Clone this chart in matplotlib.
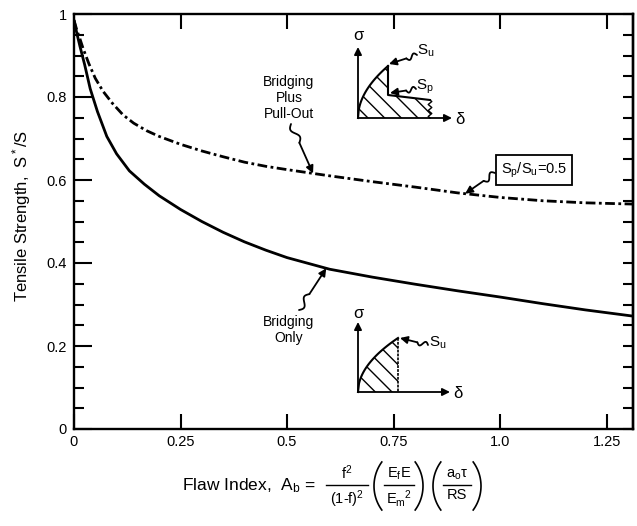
import numpy as np
import matplotlib
matplotlib.use("Agg")
import matplotlib.pyplot as plt
from matplotlib.ticker import FixedLocator, MultipleLocator

plt.rcParams['font.family'] = ['Liberation Sans', 'DejaVu Sans']
plt.rcParams['mathtext.fontset'] = 'custom'
plt.rcParams['mathtext.rm'] = 'Liberation Sans'
plt.rcParams['mathtext.it'] = 'Liberation Sans'
plt.rcParams['mathtext.sf'] = 'Liberation Sans'
plt.rcParams['mathtext.bf'] = 'Liberation Sans:bold'
plt.rcParams['hatch.linewidth'] = 1.0
plt.rcParams['lines.scale_dashes'] = False

# ---- curves: normalised tensile strength vs flaw index ----
flaw_bridging = [0, 0.007, 0.014, 0.025, 0.038, 0.055, 0.077, 0.1, 0.13, 0.165,
                 0.2, 0.25, 0.3, 0.35, 0.4, 0.45, 0.5, 0.6, 0.7, 0.8, 0.9,
                 1.0, 1.1, 1.2, 1.312]
strength_bridging = [0.985, 0.952, 0.922, 0.878, 0.82, 0.765, 0.705, 0.663, 0.622, 0.59,
                     0.562, 0.529, 0.50, 0.474, 0.451, 0.431, 0.413, 0.385, 0.366, 0.349, 0.333,
                     0.318, 0.302, 0.287, 0.272]

flaw_pullout = [0, 0.007, 0.014, 0.021, 0.035, 0.05, 0.068, 0.09, 0.115, 0.14,
                0.17, 0.2, 0.25, 0.3, 0.35, 0.4, 0.45, 0.5, 0.6, 0.7, 0.8,
                0.9, 1.0, 1.1, 1.2, 1.312]
strength_pullout = [0.985, 0.96, 0.94, 0.918, 0.88, 0.845, 0.814, 0.785, 0.757, 0.737,
                    0.719, 0.705, 0.686, 0.67, 0.656, 0.643, 0.633, 0.625, 0.61, 0.596, 0.583,
                    0.569, 0.558, 0.55, 0.545, 0.542]

x_ticks = [0, 0.25, 0.5, 0.75, 1.0, 1.25]
x_tick_labels = ['0', '0.25', '0.5', '0.75', '1.0', '1.25']
y_ticks = [0, 0.2, 0.4, 0.6, 0.8, 1.0]
y_tick_labels = ['0', '0.2', '0.4', '0.6', '0.8', '1']

# where the callout arrows touch the curves (flaw index)
pullout_label_at = 0.561
bridging_label_at = 0.592
ratio_label_at = 0.918

W, H = 637, 526
fig = plt.figure(figsize=(W / 100, H / 100), dpi=100)


def px_rect(x0, y0, x1, y1):
    return [x0 / W, 1 - y1 / H, (x1 - x0) / W, (y1 - y0) / H]


ax = fig.add_axes(px_rect(74, 14, 633, 429))
ax.plot(flaw_bridging, strength_bridging, color='black', lw=2.0,
        solid_capstyle='round', solid_joinstyle='round')
ax.plot(flaw_pullout, strength_pullout, color='black', lw=2.0,
        dashes=(7, 2.5, 2, 2.5))
ax.set_xlim(0, 1.312)
ax.set_ylim(0, 1.0)

ax.xaxis.set_major_locator(FixedLocator(x_ticks))
ax.set_xticklabels(x_tick_labels)
ax.yaxis.set_major_locator(FixedLocator(y_ticks))
ax.set_yticklabels(y_tick_labels)
ax.yaxis.set_minor_locator(MultipleLocator(0.05))
ax.tick_params(axis='x', which='major', direction='in', top=True, length=11,
               width=1.5, labelsize=10.5, pad=4)
ax.tick_params(axis='y', which='major', direction='in', right=False, length=13,
               width=1.5, labelsize=10.5, pad=5)
ax.tick_params(axis='y', which='minor', direction='in', right=False, length=7,
               width=1.5)
for sp in ax.spines.values():
    sp.set_linewidth(1.7)

# right-hand axis: evenly short ticks every 0.05
sec = ax.secondary_yaxis('right')
sec.yaxis.set_major_locator(MultipleLocator(0.05))
sec.tick_params(axis='y', which='major', direction='in', length=7, width=1.5,
                labelright=False)
sec.spines['right'].set_linewidth(1.7)

# overlay in pixel coordinates for the sketches, callouts and the formula
ov = fig.add_axes([0, 0, 1, 1])
ov.set_xlim(0, W)
ov.set_ylim(H, 0)
ov.axis('off')
ov.patch.set_alpha(0)
ov.set_zorder(5)


def data_to_px(x, y):
    disp = ax.transData.transform((x, y))
    return tuple(ov.transData.inverted().transform(disp))


def arrow(start, tip, lw=1.3, scale=11):
    ov.annotate('', xy=tip, xytext=start,
                arrowprops=dict(arrowstyle='-|>', color='black', lw=lw,
                                mutation_scale=scale, shrinkA=0, shrinkB=0))


def callout(start, tip, wave_frac=0.38, amp=3.0):
    p0 = np.array(start, float)
    p1 = np.array(tip, float)
    d = p1 - p0
    L = np.hypot(*d)
    u = d / L
    n = np.array([-u[1], u[0]])
    t = np.linspace(0, wave_frac, 40)
    w = amp * np.sin(2 * np.pi * t / wave_frac)
    pts = p0 + np.outer(t * L, u) + np.outer(w, n)
    ov.plot(pts[:, 0], pts[:, 1], color='black', lw=1.3, solid_capstyle='round')
    arrow(tuple(pts[-1]), tip)


# ---- inset: bridging plus pull-out ----
o1 = (358, 118)
arrow(o1, (358, 47))
arrow(o1, (452, 118))
ov.text(358, 36, 'σ', ha='center', va='center', fontsize=12)
ov.text(455, 119, 'δ', ha='left', va='center', fontsize=12)
u = np.linspace(0, 1, 40)
cx = 358 + 30 * u
cy = 118 - 52 * np.sqrt(u)
wy = np.linspace(100, 118, 13)
wx = 430 + 1.8 * np.sin(np.linspace(0, 6 * np.pi, 13))
poly_x = np.concatenate([cx, [388, 430], wx, [358]])
poly_y = np.concatenate([cy, [95, 100], wy, [118]])
ov.fill(poly_x, poly_y, facecolor='none', edgecolor='black', lw=0, hatch='\\\\')
ov.plot(cx, cy, color='black', lw=1.5)
ov.plot([388, 388, 430], [cy[-1], 95, 100], color='black', lw=1.5)
ov.plot(wx, wy, color='black', lw=1.0)
ov.text(426, 51, 'S$_u$', ha='center', va='center', fontsize=11)
callout((417, 55), (389, 64), amp=2.5)
ov.text(425, 87, 'S$_p$', ha='center', va='center', fontsize=11)
callout((416, 89), (390, 93), amp=2.5)

# ---- inset: bridging only ----
o2 = (358, 392)
arrow(o2, (358, 322))
arrow(o2, (450, 392))
ov.text(358, 313, 'σ', ha='center', va='center', fontsize=12)
ov.text(453, 393, 'δ', ha='left', va='center', fontsize=12)
cx2 = 358 + 40 * u
cy2 = 392 - 54 * np.sqrt(u)
poly2_x = np.concatenate([cx2, [398, 358]])
poly2_y = np.concatenate([cy2, [392, 392]])
ov.fill(poly2_x, poly2_y, facecolor='none', edgecolor='black', lw=0, hatch='\\\\')
ov.plot(cx2, cy2, color='black', lw=1.5)
ov.plot([398, 398], [cy2[-1], 392], color='black', lw=1.2, dashes=(2, 0.8))
ov.text(438, 343, 'S$_u$', ha='center', va='center', fontsize=11)
callout((428, 345), (400, 338), amp=2.5)

# ---- curve labels ----
ov.text(289, 98, 'Bridging\nPlus\nPull-Out', ha='center', va='center',
        fontsize=10, linespacing=1.15, multialignment='center')
callout((291, 124), data_to_px(pullout_label_at,
                               np.interp(pullout_label_at, flaw_pullout, strength_pullout)))

ov.text(289, 330, 'Bridging\nOnly', ha='center', va='center',
        fontsize=10, linespacing=1.15, multialignment='center')
callout((299, 310), data_to_px(bridging_label_at,
                               np.interp(bridging_label_at, flaw_bridging, strength_bridging)))

ov.text(534, 170, 'S$_p$/S$_u$=0.5', ha='center', va='center', fontsize=10.5,
        bbox=dict(boxstyle='square,pad=0.35', facecolor='white', edgecolor='black', lw=1.3))
callout((495, 173), data_to_px(ratio_label_at,
                               np.interp(ratio_label_at, flaw_pullout, strength_pullout)))

# ---- axis titles ----
fig.text(22 / W, 1 - 216 / H, 'Tensile Strength,  S$^*$/S', rotation=90,
         ha='center', va='center', fontsize=12)

yb = 485          # fraction-bar level of the flaw-index formula
fs_frac = 10.5
ov.text(316, yb + 1, 'Flaw Index,  A$_b$ =', ha='right', va='center', fontsize=12.5)


def fraction(x0, x1, num, den):
    xc = 0.5 * (x0 + x1)
    ov.plot([x0, x1], [yb, yb], color='black', lw=1.0)
    ov.text(xc, yb - 3, num, ha='center', va='bottom', fontsize=fs_frac)
    ov.text(xc, yb + 3, den, ha='center', va='top', fontsize=fs_frac)


def paren(x_edge, left=True, h=24, theta_max=np.radians(36)):
    r = h / np.sin(theta_max)
    th = np.linspace(-theta_max, theta_max, 40)
    off = r * (1 - np.cos(th))
    xs = x_edge + off if left else x_edge - off
    ov.plot(xs, yb + 1 + r * np.sin(th), color='black', lw=1.2)


fraction(326, 368, 'f$^2$', '(1-f)$^2$')
paren(374, left=True)
fraction(384, 414, 'E$_f$E', 'E$_m$$^2$')
paren(423, left=False)
paren(433, left=True)
fraction(443, 471, 'a$_o$τ', 'RS')
paren(481, left=False)

fig.savefig('out.png', dpi=100)
